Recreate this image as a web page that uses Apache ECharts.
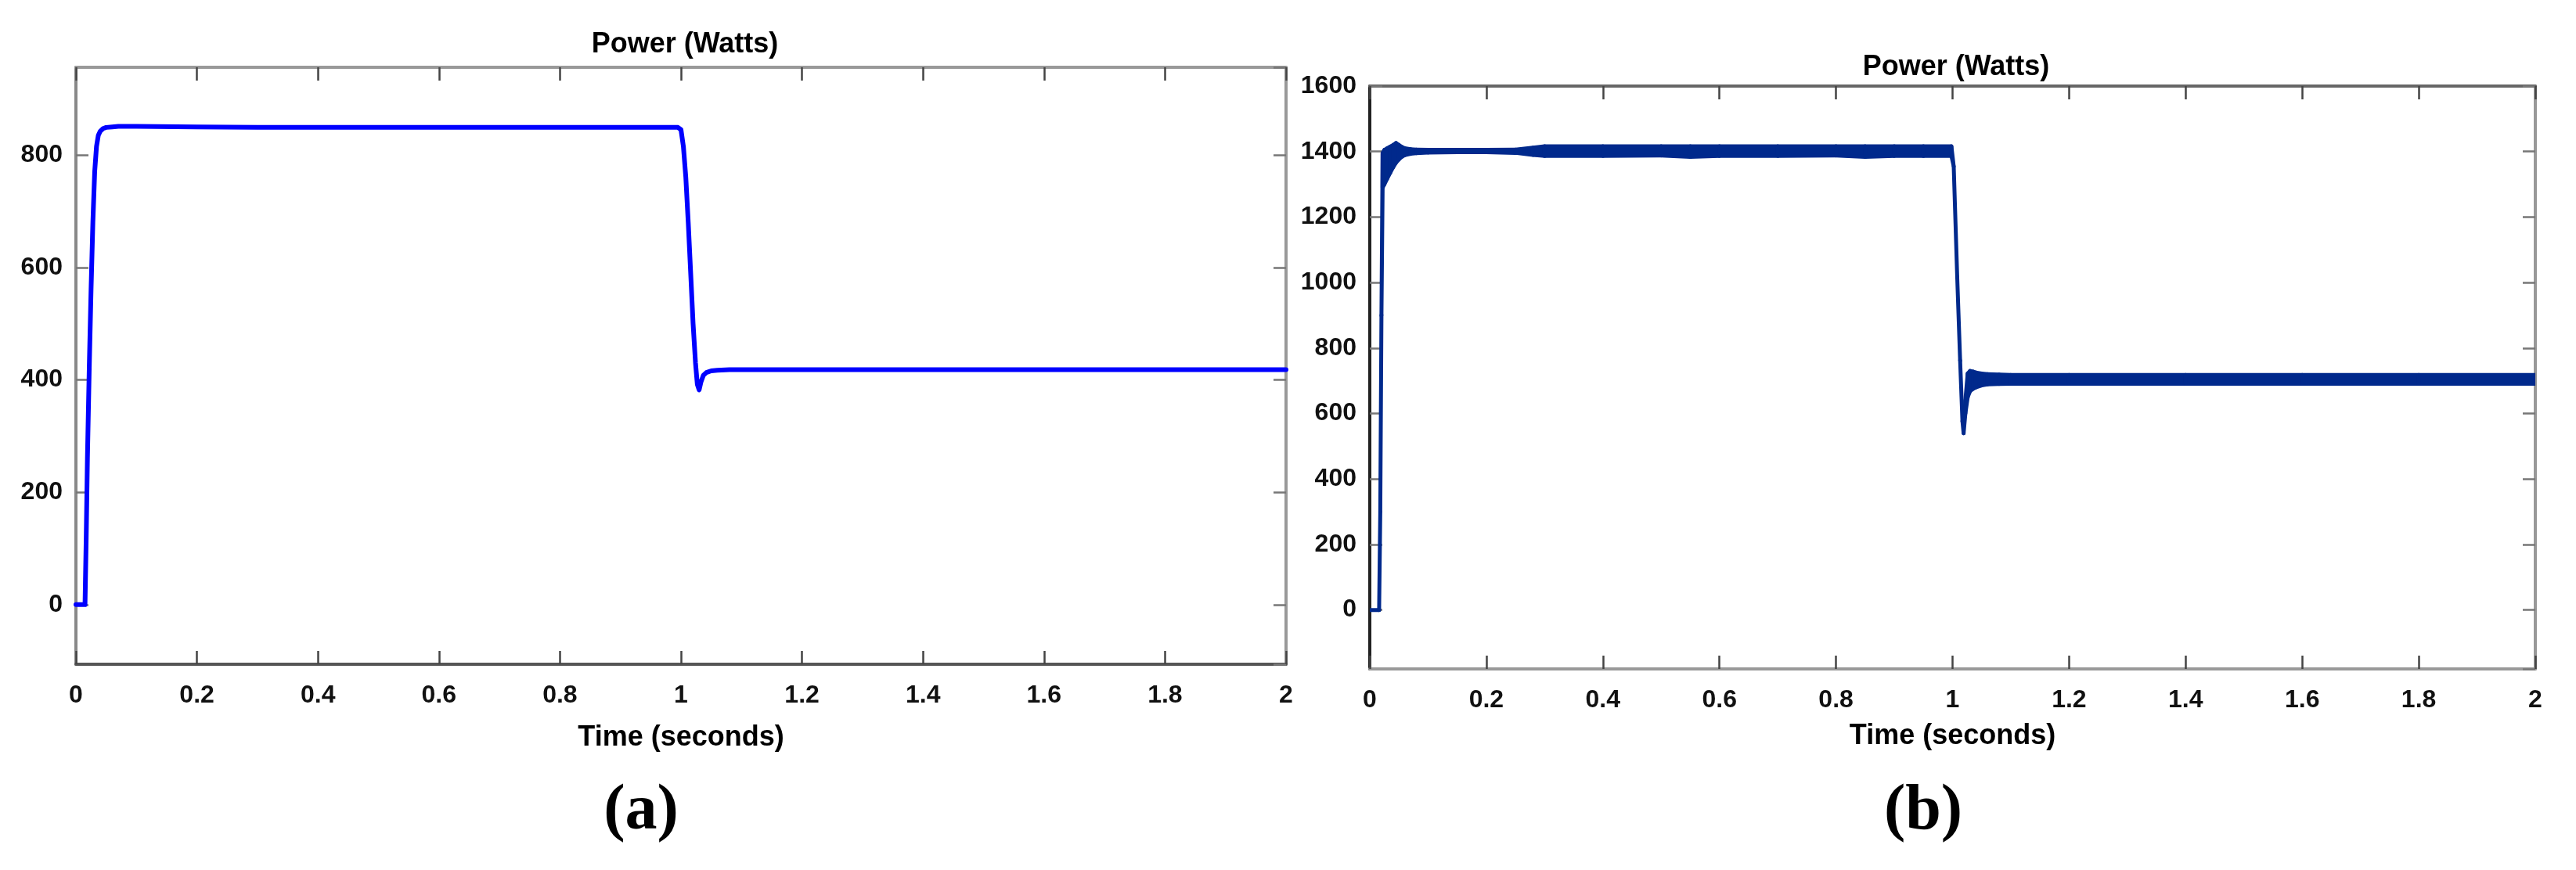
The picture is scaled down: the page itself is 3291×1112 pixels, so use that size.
<!DOCTYPE html>
<html><head><meta charset="utf-8">
<script src="https://cdn.jsdelivr.net/npm/echarts@6/dist/echarts.min.js"></script>
<style>html,body{margin:0;padding:0;background:#fff}#c{width:3291px;height:1112px}</style>
</head><body><div id="c"></div>
<script>
// ---- data: panel (a) ----
const timeA  = [0, 0.015, 0.017, 0.019, 0.022, 0.025, 0.028, 0.031, 0.034, 0.037, 0.040, 0.045, 0.050, 0.060, 0.070, 0.10, 0.20, 0.30, 0.40, 0.50, 0.60, 0.70, 0.80, 0.90, 0.995, 1.000, 1.004, 1.008, 1.012, 1.016, 1.020, 1.024, 1.027, 1.030, 1.033, 1.037, 1.042, 1.050, 1.060, 1.080, 1.10, 1.20, 1.40, 1.60, 1.80, 2.0];
const powerA = [0, 0, 120, 260, 420, 560, 680, 770, 815, 835, 842, 847, 849, 850, 851, 851, 850, 849, 849, 849, 849, 849, 849, 849, 849, 845, 815, 760, 680, 590, 500, 430, 392, 382, 396, 408, 413, 416, 417, 418, 418, 418, 418, 418, 418, 418];
// ---- data: panel (b), upper / lower envelope of the ripple band ----
const timeB  = [0, 0.016, 0.018, 0.020, 0.022, 0.025, 0.030, 0.035, 0.040, 0.045, 0.050, 0.055, 0.060, 0.070, 0.080, 0.10, 0.15, 0.20, 0.25, 0.28, 0.30, 0.40, 0.50, 0.55, 0.60, 0.70, 0.80, 0.85, 0.90, 0.95, 0.998, 1.002, 1.008, 1.013, 1.017, 1.019, 1.022, 1.026, 1.030, 1.035, 1.040, 1.050, 1.060, 1.080, 1.10, 1.20, 1.40, 1.60, 1.80, 2.0];
const upperB = [0, 0, 300, 900, 1395, 1405, 1410, 1415, 1420, 1426, 1420, 1414, 1410, 1407, 1406, 1405, 1405, 1405, 1406, 1412, 1416, 1416, 1416, 1416, 1416, 1416, 1416, 1416, 1416, 1416, 1416, 1355, 1017, 762, 576, 540, 640, 722, 730, 728, 725, 722, 720, 719, 718, 718, 718, 718, 718, 718];
const lowerB = [0, 0, 300, 900, 1290, 1300, 1318, 1335, 1352, 1366, 1376, 1384, 1389, 1393, 1395, 1397, 1398, 1398, 1396, 1390, 1387, 1387, 1388, 1384, 1387, 1387, 1388, 1384, 1387, 1387, 1387, 1355, 1017, 762, 576, 540, 600, 650, 668, 675, 680, 686, 689, 690, 691, 691, 691, 691, 691, 691];
// ---- tick labels ----
const xTickLabels = ['0', '0.2', '0.4', '0.6', '0.8', '1', '1.2', '1.4', '1.6', '1.8', '2'];
const yTicksA = [0, 200, 400, 600, 800];
const yTicksB = [0, 200, 400, 600, 800, 1000, 1200, 1400, 1600];
const titleText = 'Power (Watts)';
const xName = 'Time (seconds)';

const zip = (a, b) => a.map((v, i) => [v, b[i]]);
const FONT = '"Liberation Sans", Arial, sans-serif';
const lbl = {fontFamily: FONT, fontWeight: 'bold', fontSize: 32, color: '#111'};
const xFmt = v => { const s = String(Math.round(v * 10) / 10); return xTickLabels.includes(s) ? s : ''; };

function xAxes(grid, bottomColor, topColor, gap) {
  return [
    {type: 'value', gridIndex: grid, position: 'bottom', min: 0, max: 2, interval: 0.2,
     axisLine: {show: true, onZero: false, lineStyle: {color: bottomColor, width: 4}},
     axisTick: {show: true, inside: true, length: 17, lineStyle: {color: '#444', width: 2.5}},
     axisLabel: Object.assign({margin: 24, formatter: xFmt}, lbl),
     splitLine: {show: false},
     name: xName, nameLocation: 'middle', nameGap: gap,
     nameTextStyle: {fontFamily: FONT, fontWeight: 'bold', fontSize: 36, color: '#000'}},
    {type: 'value', gridIndex: grid, position: 'top', min: 0, max: 2, interval: 0.2,
     axisLine: {show: true, onZero: false, lineStyle: {color: topColor, width: 4}},
     axisTick: {show: true, inside: true, length: 17, lineStyle: {color: '#444', width: 2.5}},
     axisLabel: {show: false}, splitLine: {show: false}}
  ];
}
function yAxes(grid, min, max, split, ticks, showMax, leftColor, rightColor) {
  const fmt = v => ticks.includes(v) ? String(v) : '';
  return [
    {type: 'value', gridIndex: grid, position: 'left', min: min, max: max, splitNumber: split,
     axisLine: {show: true, onZero: false, lineStyle: {color: leftColor, width: 4}},
     axisTick: {show: true, inside: true, length: 16, lineStyle: {color: '#777', width: 2.5}},
     axisLabel: Object.assign({margin: 17, formatter: fmt, showMinLabel: false, showMaxLabel: showMax}, lbl),
     splitLine: {show: false}},
    {type: 'value', gridIndex: grid, position: 'right', min: min, max: max, splitNumber: split,
     axisLine: {show: true, onZero: false, lineStyle: {color: rightColor, width: 4}},
     axisTick: {show: true, inside: true, length: 16, lineStyle: {color: '#777', width: 2.5}},
     axisLabel: {show: false}, splitLine: {show: false}}
  ];
}

const blueB = '#00298c';
const capRich = {p: {fontFamily: '"Liberation Serif", serif', fontSize: 82, color: '#000'},
                 l: {fontFamily: '"Liberation Serif", serif', fontSize: 82, fontWeight: 'bold', color: '#000'}};
const chart = echarts.init(document.getElementById('c'), null, {renderer: 'canvas'});
chart.setOption({
  animation: false,
  backgroundColor: '#fff',
  title: [
    {text: titleText, left: 870, top: 34, textAlign: 'center',
     textStyle: {fontFamily: FONT, fontWeight: 'bold', fontSize: 36, color: '#000'}},
    {text: titleText, left: 2494, top: 63, textAlign: 'center',
     textStyle: {fontFamily: FONT, fontWeight: 'bold', fontSize: 36, color: '#000'}},
    {text: '{p|(}{l|a}{p|)}', left: 814, top: 992, textAlign: 'center', textStyle: {rich: capRich}},
    {text: '{p|(}{l|b}{p|)}', left: 2452, top: 992, textAlign: 'center', textStyle: {rich: capRich}}
  ],
  grid: [
    {left: 97, top: 86, width: 1546, height: 763, containLabel: false},
    {left: 1750, top: 110, width: 1489, height: 745, containLabel: false}
  ],
  xAxis: [].concat(xAxes(0, '#555', '#999', 76), xAxes(1, '#999', '#666', 68)),
  yAxis: [].concat(yAxes(0, -106, 956, 5, yTicksA, false, '#888', '#999'),
                   yAxes(1, -180, 1600, 8, yTicksB, true, '#222', '#999')),
  series: [
    {type: 'line', xAxisIndex: 0, yAxisIndex: 0, data: zip(timeA, powerA), symbol: 'none',
     lineStyle: {color: '#0000ff', width: 6, join: 'round', cap: 'round'}},
    {type: 'custom', xAxisIndex: 2, yAxisIndex: 2, clip: true,
     data: timeB.map((t, i) => [t, upperB[i], lowerB[i]]),
     encode: {x: 0, y: [1, 2]},
     renderItem: function (params, api) {
       const i = params.dataIndexInside;
       if (i >= params.dataInsideLength - 1) return;
       const t0 = api.value(0, i), t1 = api.value(0, i + 1);
       const pts = [api.coord([t0, api.value(1, i)]), api.coord([t1, api.value(1, i + 1)]),
                    api.coord([t1, api.value(2, i + 1)]), api.coord([t0, api.value(2, i)])];
       return {type: 'polygon', shape: {points: pts},
               style: {fill: blueB, stroke: blueB, lineWidth: 5, lineJoin: 'round'}};
     }}
  ]
});
</script></body></html>
